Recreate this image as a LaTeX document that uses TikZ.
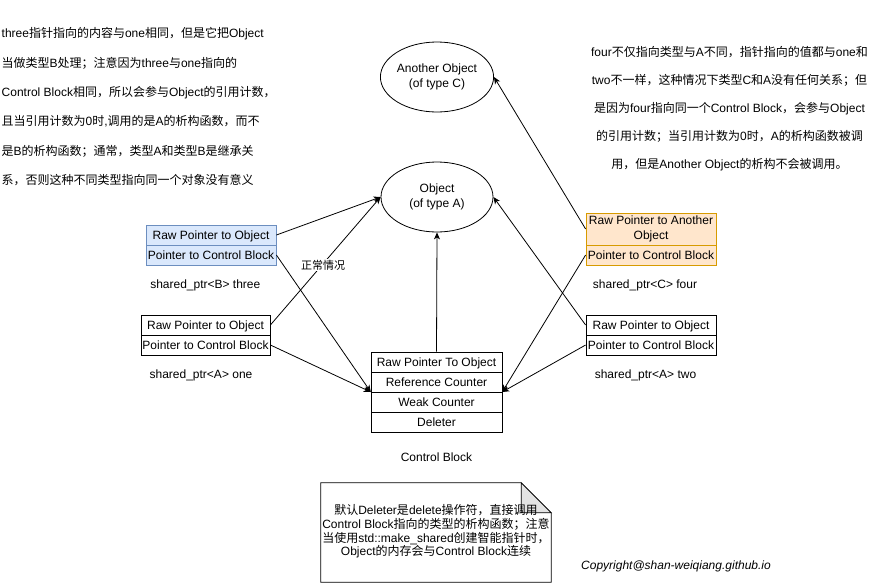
\documentclass[tikz,border=0pt]{standalone}
\usepackage{fontspec}
\setmainfont{Liberation Sans}
\newfontfamily\cjkfont{Noto Sans CJK SC}
\usetikzlibrary{arrows.meta,shapes.geometric}
% automatic switch to the CJK font for CJK characters
\XeTeXinterchartokenstate=1
\newXeTeXintercharclass\CJKcls
\newcount\cjkcc
\cjkcc="4E00
\loop\XeTeXcharclass\cjkcc=\CJKcls\relax\advance\cjkcc by 1\relax\ifnum\cjkcc<"A000\repeat
\cjkcc="3000
\loop\XeTeXcharclass\cjkcc=\CJKcls\relax\advance\cjkcc by 1\relax\ifnum\cjkcc<"3040\repeat
\cjkcc="FF00
\loop\XeTeXcharclass\cjkcc=\CJKcls\relax\advance\cjkcc by 1\relax\ifnum\cjkcc<"FFF0\repeat
\XeTeXinterchartoks 0 \CJKcls = {\begingroup\cjkfont}
\XeTeXinterchartoks 4095 \CJKcls = {\begingroup\cjkfont}
\XeTeXinterchartoks \CJKcls 0 = {\endgroup}
\XeTeXinterchartoks \CJKcls 4095 = {\endgroup}
\definecolor{blueF}{HTML}{DAE8FC}
\definecolor{blueD}{HTML}{6C8EBF}
\definecolor{orF}{HTML}{FFE6CC}
\definecolor{orD}{HTML}{D79B00}
\tikzset{
  txt/.style={inner sep=0pt, font=\fontsize{12}{14.4}\selectfont},
  row/.style={draw, line width=0.8pt, inner sep=0pt, minimum height=20pt,
    text height=10pt, text depth=2pt, font=\fontsize{12}{14.4}\selectfont},
  rowml/.style={draw, line width=0.8pt, inner sep=0pt, align=center,
    font=\fontsize{12}{14.4}\selectfont},
  bluerow/.style={row, fill=blueF, draw=blueD},
  orrow/.style={row, fill=orF, draw=orD},
  obj/.style={ellipse, draw, line width=0.8pt, minimum width=112pt, minimum height=70pt,
    inner sep=0pt, align=center, font=\fontsize{12}{15}\selectfont},
  arr/.style={line width=0.8pt, -{Stealth[length=7pt,width=6pt,inset=2pt]}},
}
\begin{document}
\begin{tikzpicture}[x=1pt,y=-1pt]
\useasboundingbox (0,0) rectangle (872,584);
% ellipses
\node[obj] (objC) at (437,77) {Another Object\\(of type C)};
\node[obj] (objA) at (437,197) {Object\\(of type A)};
% shared_ptr<B> three
\node[bluerow, minimum width=130pt] (tr1) at (211,235) {Raw Pointer to Object};
\node[bluerow, minimum width=130pt] (tr2) at (211,255) {Pointer to Control Block};
\node[txt] (trl) at (205.3,285) {shared\_ptr<B> three};
% shared_ptr<A> one
\node[row, minimum width=129pt] (on1) at (205.5,325) {Raw Pointer to Object};
\node[row, minimum width=129pt] (on2) at (205.5,345) {Pointer to Control Block};
\node[txt] (onl) at (201,375) {shared\_ptr<A> one};
% shared_ptr<C> four
\node[rowml, fill=orF, draw=orD, minimum width=130pt, minimum height=32pt] (fo1) at (651,229) {Raw Pointer to Another\\Object};
\node[orrow, minimum width=130pt] (fo2) at (651,255) {Pointer to Control Block};
\node[txt] (fol) at (645,285) {shared\_ptr<C> four};
% shared_ptr<A> two
\node[row, minimum width=130pt] (tw1) at (651,325) {Raw Pointer to Object};
\node[row, minimum width=130pt] (tw2) at (651,345) {Pointer to Control Block};
\node[txt] (twl) at (645.5,375) {shared\_ptr<A> two};
% control block
\node[inner sep=0pt, minimum width=131pt, minimum height=80pt] (cb) at (436.5,392) {};
\node[row, minimum width=131pt] (cb1) at (436.5,362) {Raw Pointer To Object};
\node[row, minimum width=131pt] (cb2) at (436.5,382) {Reference Counter};
\node[row, minimum width=131pt] (cb3) at (436.5,402) {Weak Counter};
\node[row, minimum width=131pt] (cb4) at (436.5,422) {Deleter};
\node[txt] (cbl) at (436.5,457) {Control Block};
% connectors
\draw[arr] (tr1.east) -- (objA.west);
\draw[arr] (on1.east) -- (objA.west);
\draw[arr] (tr2.east) -- (cb.west);
\draw[arr] (on2.east) -- (cb.west);
\draw[arr] (cb1.north) -- (objA.south);
\draw[arr] (fo1.west) -- (objC.east);
\draw[arr] (fo2.west) -- (cb.east);
\draw[arr] (tw1.west) -- (objA.east);
\draw[arr] (tw2.west) -- (cb.east);
\node[fill=white, inner sep=1pt, font=\fontsize{11}{13}\selectfont] (normal) at (323,265) {正常情况};
% left note text
\foreach \t [count=\i] in {
  {three指针指向的内容与one相同，但是它把Object},
  {当做类型B处理；注意因为three与one指向的},
  {Control Block相同，所以会参与Object的引用计数，},
  {且当引用计数为0时,调用的是A的析构函数，而不},
  {是B的析构函数；通常，类型A和类型B是继承关},
  {系，否则这种不同类型指向同一个对象没有意义}}
  \node[txt, anchor=base west] (L\i) at (1.5,{37.7+(\i-1)*29.35}) {\t};
% right note text
\foreach \t [count=\i] in {
  {four不仅指向类型与A不同，指针指向的值都与one和},
  {two不一样，这种情况下类型C和A没有任何关系；但},
  {是因为four指向同一个Control Block，会参与Object},
  {的引用计数；当引用计数为0时，A的析构函数被调},
  {用，但是Another Object的析构不会被调用。}}
  \node[txt, anchor=base] (R\i) at (729.5,{56.6+(\i-1)*28}) {\t};
% note with folded corner
\node[inner sep=0pt, minimum width=230pt, minimum height=99pt] (note) at (436,532.5) {};
\draw[line width=0.8pt] (note.north west) -- ([xshift=-30pt]note.north east)
  -- ([yshift=-30pt]note.north east) -- (note.south east) -- (note.south west) -- cycle;
\draw[line width=0.8pt, fill=gray!22] ([xshift=-30pt]note.north east)
  -- ([xshift=-30pt,yshift=-30pt]note.north east) -- ([yshift=-30pt]note.north east) -- cycle;
\node[txt, align=center, font=\fontsize{12}{13.7}\selectfont] (notet) at ([yshift=1pt]note.center)
  {默认Deleter是delete操作符，直接调用\\Control Block指向的类型的析构函数；注意\\当使用std::make\_shared创建智能指针时，\\Object的内存会与Control Block连续};
\node[txt, font=\fontsize{12}{14.4}\itshape] (copy) at (676,566) {Copyright@shan-weiqiang.github.io};
\end{tikzpicture}
\end{document}
